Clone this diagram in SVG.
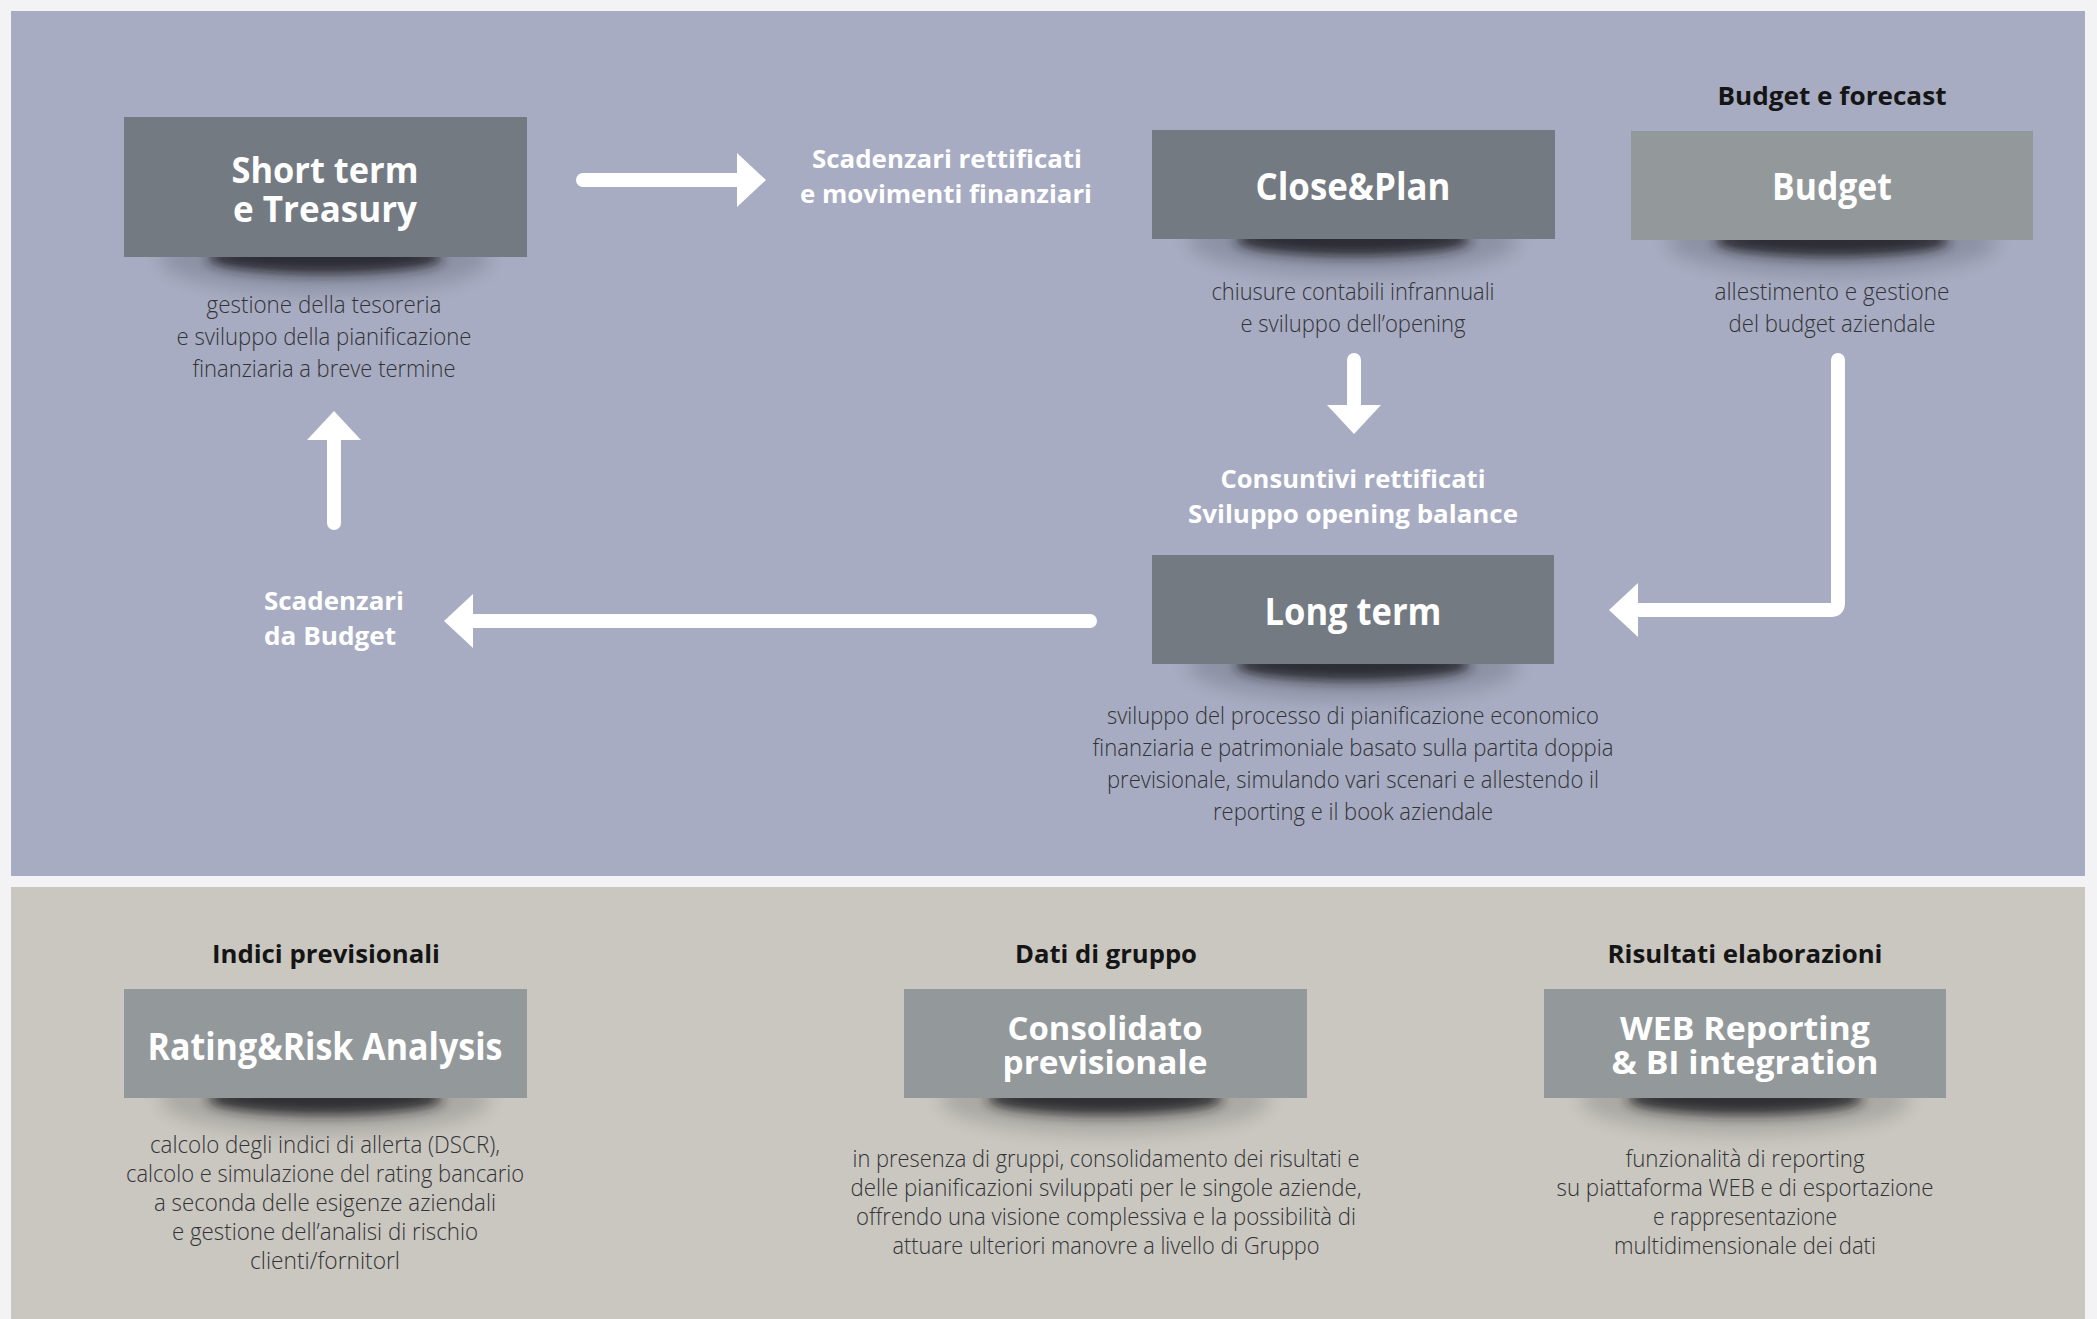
<svg xmlns="http://www.w3.org/2000/svg" width="2097" height="1319" viewBox="0 0 2097 1319">
<style>
.bg{fill:#f3f3f5}
.panel-blue{fill:#a7acc2}
.panel-beige{fill:#c9c7c0}
.box-dark{fill:#747a82}
.box-light{fill:#93989b}
text{font-family:'Open Sans','Liberation Sans',sans-serif}
.t{font-weight:700;fill:#fff;text-anchor:middle;font-size:38px}
.t1{font-weight:700;fill:#fff;text-anchor:middle;font-size:36px}
.t2{font-weight:700;fill:#fff;text-anchor:middle;font-size:32px}
.lbl{font-weight:700;fill:#fff;font-size:25px}
.hdr{font-weight:700;fill:#151515;text-anchor:middle;font-size:25px}
.d{font-weight:300;fill:#333336;text-anchor:middle;font-size:24px}
.conn{fill:none;stroke:#fff;stroke-width:14;stroke-linecap:round;stroke-linejoin:round;marker-end:url(#ah)}
.sh-core{fill:#1c1e24;opacity:.85;filter:url(#blurA)}
.sh-halo{fill:#000;opacity:.15;filter:url(#blurB)}
</style>
<defs>
<marker id="ah" viewBox="0 0 29 54" refX="0" refY="27" markerWidth="29" markerHeight="54" markerUnits="userSpaceOnUse" orient="auto">
<path d="M0,0 L29,27 L0,54 Z" fill="#fff"/>
</marker>
<filter id="blurA" x="-30%" y="-100%" width="160%" height="300%"><feGaussianBlur stdDeviation="6"/></filter>
<filter id="blurB" x="-30%" y="-100%" width="160%" height="300%"><feGaussianBlur stdDeviation="9"/></filter>
</defs>

<rect class="bg" x="0" y="0" width="2097" height="1319"/>
<rect class="panel-blue" x="11" y="11" width="2074" height="865"/>
<rect class="panel-beige" x="11" y="887" width="2074" height="432"/>

<g id="connectors">
<path class="conn" d="M583,180 H737"/>
<path class="conn" d="M1354,360 V405"/>
<path class="conn" d="M1838,360 V603 Q1838,610 1831,610 H1638"/>
<path class="conn" d="M1090,621 H473"/>
<path class="conn" d="M334,523 V440"/>
<g id="label-scadenzari-rettificati">
<text class="lbl" text-anchor="middle"><tspan x="947" y="168" textLength="270" lengthAdjust="spacingAndGlyphs">Scadenzari rettificati</tspan><tspan x="946" y="203" textLength="292" lengthAdjust="spacingAndGlyphs">e movimenti finanziari</tspan></text>
</g>
<g id="label-consuntivi">
<text class="lbl" text-anchor="middle"><tspan x="1353" y="488" textLength="265" lengthAdjust="spacingAndGlyphs">Consuntivi rettificati</tspan><tspan x="1353" y="523" textLength="330" lengthAdjust="spacingAndGlyphs">Sviluppo opening balance</tspan></text>
</g>
<g id="label-scadenzari-budget">
<text class="lbl"><tspan x="264" y="610" textLength="140" lengthAdjust="spacingAndGlyphs">Scadenzari</tspan><tspan x="264" y="645" textLength="132" lengthAdjust="spacingAndGlyphs">da Budget</tspan></text>
</g>
</g>

<g id="node-short-term">
<ellipse class="sh-halo" cx="325" cy="259" rx="165" ry="34"/>
<ellipse class="sh-core" cx="325" cy="258" rx="118" ry="16"/>
<rect class="box-dark" x="124" y="117" width="403" height="140"/>
<text class="t1"><tspan x="325" y="183" textLength="187" lengthAdjust="spacingAndGlyphs">Short term</tspan><tspan x="325" y="222" textLength="184" lengthAdjust="spacingAndGlyphs">e Treasury</tspan></text>
<text class="d" x="324" y="313" textLength="235" lengthAdjust="spacingAndGlyphs">gestione della tesoreria</text>
<text class="d" x="324" y="345" textLength="295" lengthAdjust="spacingAndGlyphs">e sviluppo della pianificazione</text>
<text class="d" x="324" y="377" textLength="263" lengthAdjust="spacingAndGlyphs">finanziaria a breve termine</text>
</g>

<g id="node-close-plan">
<ellipse class="sh-halo" cx="1353" cy="241" rx="165" ry="34"/>
<ellipse class="sh-core" cx="1353" cy="240" rx="118" ry="16"/>
<rect class="box-dark" x="1152" y="130" width="403" height="109"/>
<text class="t" x="1353" y="200" textLength="195" lengthAdjust="spacingAndGlyphs">Close&amp;Plan</text>
<text class="d" x="1353" y="300" textLength="283" lengthAdjust="spacingAndGlyphs">chiusure contabili infrannuali</text>
<text class="d" x="1353" y="332" textLength="225" lengthAdjust="spacingAndGlyphs">e sviluppo dell’opening</text>
</g>

<g id="node-budget">
<text class="hdr" x="1832" y="105" textLength="229" lengthAdjust="spacingAndGlyphs">Budget e forecast</text>
<ellipse class="sh-halo" cx="1832" cy="242" rx="165" ry="34"/>
<ellipse class="sh-core" cx="1832" cy="241" rx="118" ry="16"/>
<rect class="box-light" x="1631" y="131" width="402" height="109"/>
<text class="t" x="1832" y="200" textLength="120" lengthAdjust="spacingAndGlyphs">Budget</text>
<text class="d" x="1832" y="300" textLength="235" lengthAdjust="spacingAndGlyphs">allestimento e gestione</text>
<text class="d" x="1832" y="332" textLength="207" lengthAdjust="spacingAndGlyphs">del budget aziendale</text>
</g>

<g id="node-long-term">
<ellipse class="sh-halo" cx="1353" cy="666" rx="165" ry="34"/>
<ellipse class="sh-core" cx="1353" cy="665" rx="118" ry="16"/>
<rect class="box-dark" x="1152" y="555" width="402" height="109"/>
<text class="t" x="1353" y="625" textLength="177" lengthAdjust="spacingAndGlyphs">Long term</text>
<text class="d" x="1353" y="724" textLength="492" lengthAdjust="spacingAndGlyphs">sviluppo del processo di pianificazione economico</text>
<text class="d" x="1353" y="756" textLength="521" lengthAdjust="spacingAndGlyphs">finanziaria e patrimoniale basato sulla partita doppia</text>
<text class="d" x="1353" y="788" textLength="492" lengthAdjust="spacingAndGlyphs">previsionale, simulando vari scenari e allestendo il</text>
<text class="d" x="1353" y="820" textLength="280" lengthAdjust="spacingAndGlyphs">reporting e il book aziendale</text>
</g>

<g id="node-rating">
<text class="hdr" x="326" y="963" textLength="228" lengthAdjust="spacingAndGlyphs">Indici previsionali</text>
<ellipse class="sh-halo" cx="325" cy="1100" rx="165" ry="34"/>
<ellipse class="sh-core" cx="325" cy="1099" rx="118" ry="16"/>
<rect class="box-light" x="124" y="989" width="403" height="109"/>
<text class="t" x="325" y="1060" textLength="355" lengthAdjust="spacingAndGlyphs">Rating&amp;Risk Analysis</text>
<text class="d" x="325" y="1153" textLength="350" lengthAdjust="spacingAndGlyphs">calcolo degli indici di allerta (DSCR),</text>
<text class="d" x="325" y="1182" textLength="398" lengthAdjust="spacingAndGlyphs">calcolo e simulazione del rating bancario</text>
<text class="d" x="325" y="1211" textLength="342" lengthAdjust="spacingAndGlyphs">a seconda delle esigenze aziendali</text>
<text class="d" x="325" y="1240" textLength="306" lengthAdjust="spacingAndGlyphs">e gestione dell’analisi di rischio</text>
<text class="d" x="325" y="1269" textLength="150" lengthAdjust="spacingAndGlyphs">clienti/fornitorl</text>
</g>

<g id="node-consolidato">
<text class="hdr" x="1106" y="963" textLength="182" lengthAdjust="spacingAndGlyphs">Dati di gruppo</text>
<ellipse class="sh-halo" cx="1105" cy="1100" rx="165" ry="34"/>
<ellipse class="sh-core" cx="1105" cy="1099" rx="118" ry="16"/>
<rect class="box-light" x="904" y="989" width="403" height="109"/>
<text class="t2"><tspan x="1105" y="1040" textLength="195" lengthAdjust="spacingAndGlyphs">Consolidato</tspan><tspan x="1105" y="1074" textLength="205" lengthAdjust="spacingAndGlyphs">previsionale</tspan></text>
<text class="d" x="1106" y="1167" textLength="507" lengthAdjust="spacingAndGlyphs">in presenza di gruppi, consolidamento dei risultati e</text>
<text class="d" x="1106" y="1196" textLength="511" lengthAdjust="spacingAndGlyphs">delle pianificazioni sviluppati per le singole aziende,</text>
<text class="d" x="1106" y="1225" textLength="500" lengthAdjust="spacingAndGlyphs">offrendo una visione complessiva e la possibilità di</text>
<text class="d" x="1106" y="1254" textLength="427" lengthAdjust="spacingAndGlyphs">attuare ulteriori manovre a livello di Gruppo</text>
</g>

<g id="node-web-reporting">
<text class="hdr" x="1745" y="963" textLength="275" lengthAdjust="spacingAndGlyphs">Risultati elaborazioni</text>
<ellipse class="sh-halo" cx="1745" cy="1100" rx="165" ry="34"/>
<ellipse class="sh-core" cx="1745" cy="1099" rx="118" ry="16"/>
<rect class="box-light" x="1544" y="989" width="402" height="109"/>
<text class="t2"><tspan x="1745" y="1040" textLength="250" lengthAdjust="spacingAndGlyphs">WEB Reporting</tspan><tspan x="1745" y="1074" textLength="267" lengthAdjust="spacingAndGlyphs">&amp; BI integration</tspan></text>
<text class="d" x="1745" y="1167" textLength="239" lengthAdjust="spacingAndGlyphs">funzionalità di reporting</text>
<text class="d" x="1745" y="1196" textLength="377" lengthAdjust="spacingAndGlyphs">su piattaforma WEB e di esportazione</text>
<text class="d" x="1745" y="1225" textLength="184" lengthAdjust="spacingAndGlyphs">e rappresentazione</text>
<text class="d" x="1745" y="1254" textLength="262" lengthAdjust="spacingAndGlyphs">multidimensionale dei dati</text>
</g>
</svg>
